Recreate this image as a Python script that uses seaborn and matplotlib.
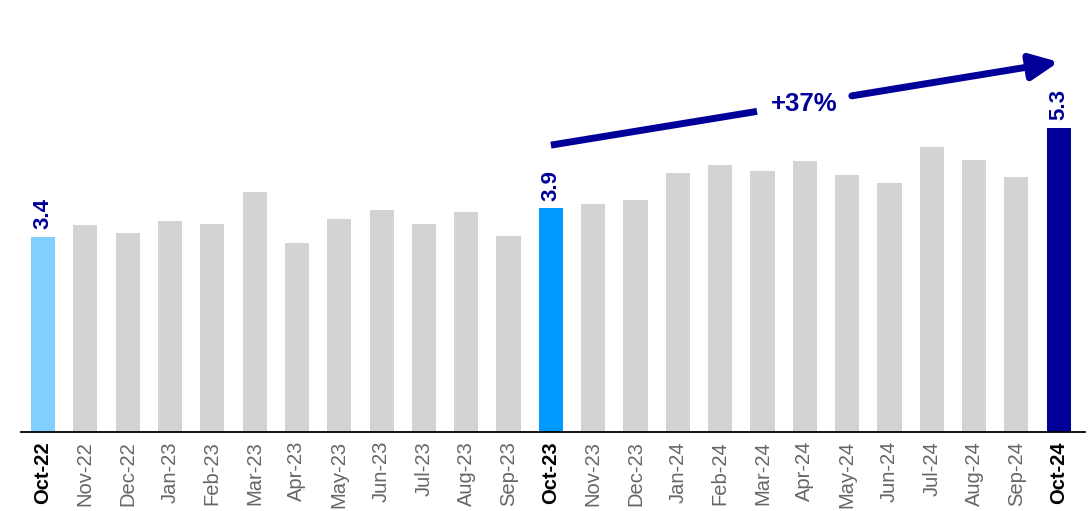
import matplotlib
matplotlib.use("Agg")
import matplotlib.pyplot as plt
import seaborn as sns
import numpy as np

months = ["Oct-22", "Nov-22", "Dec-22", "Jan-23", "Feb-23", "Mar-23", "Apr-23", "May-23",
          "Jun-23", "Jul-23", "Aug-23", "Sep-23", "Oct-23", "Nov-23", "Dec-23", "Jan-24",
          "Feb-24", "Mar-24", "Apr-24", "May-24", "Jun-24", "Jul-24", "Aug-24", "Sep-24", "Oct-24"]
values = [3.4, 3.61, 3.46, 3.68, 3.62, 4.19, 3.29, 3.71, 3.87, 3.63, 3.83, 3.41,
          3.9, 3.97, 4.04, 4.52, 4.65, 4.55, 4.73, 4.48, 4.34, 4.97, 4.74, 4.45, 5.3]
highlight = {"Oct-22": "#80CFFF", "Oct-23": "#0099FF", "Oct-24": "#000099"}
labeled = ["Oct-22", "Oct-23", "Oct-24"]
growth_label = "+37%"

GREY = "#D3D3D3"
NAVY = "#000099"

sns.set_theme(style="white")
plt.rcParams["font.family"] = ["Liberation Sans", "DejaVu Sans"]

fig = plt.figure(figsize=(10.92, 5.11), dpi=100)
ax = fig.add_axes([21 / 1092, (511 - 432) / 511, (1085 - 21) / 1092, 432 / 511])

palette = {m: highlight.get(m, GREY) for m in months}
sns.barplot(x=months, y=values, hue=months, palette=palette, legend=False,
            width=0.57, linewidth=0, saturation=1, ax=ax)

ax.set_ylim(0, 7.53)
ax.set_xlim(-0.52, 24.62)
ax.set_yticks([])
ax.set_ylabel("")
for s in ["top", "right", "left"]:
    ax.spines[s].set_visible(False)
ax.spines["bottom"].set_color("black")
ax.spines["bottom"].set_linewidth(1.3)

ax.set_xticks(range(len(months)))
ax.set_xticklabels(months, rotation=90, fontsize=14.5)
ax.tick_params(axis="x", length=0, pad=6.5)
for lbl in ax.get_xticklabels():
    if lbl.get_text() in labeled:
        lbl.set_fontweight("bold")
        lbl.set_color("black")
    else:
        lbl.set_color("#666666")

# value labels
for m in labeled:
    i = months.index(m)
    ax.annotate(f"{values[i]:.1f}", xy=(i, values[i]), xytext=(0, 5.5),
                textcoords="offset points", rotation=90, ha="center", va="bottom",
                fontsize=16, fontweight="bold", color=NAVY)

# growth arrow
i0 = months.index("Oct-23")
i1 = months.index("Oct-24")
y0 = 5.0
y1 = 6.45
slope = (y1 - y0) / (i1 - i0)
gap_a, gap_b = 16.87, 19.11
ax.plot([i0, gap_a], [y0, y0 + slope * (gap_a - i0)], color=NAVY, lw=5,
        solid_capstyle="butt", clip_on=False)
ax.annotate("", xy=(i1, y1), xytext=(gap_b, y0 + slope * (gap_b - i0)),
            arrowprops=dict(arrowstyle="-|>,head_length=1.4,head_width=0.65", lw=5,
                            color=NAVY, shrinkA=0, shrinkB=0),
            annotation_clip=False)
ax.text((gap_a + gap_b) / 2, y0 + slope * ((gap_a + gap_b) / 2 - i0), growth_label,
        ha="center", va="center", fontsize=18.5, fontweight="bold", color=NAVY)

fig.savefig("out.png", dpi=100)
